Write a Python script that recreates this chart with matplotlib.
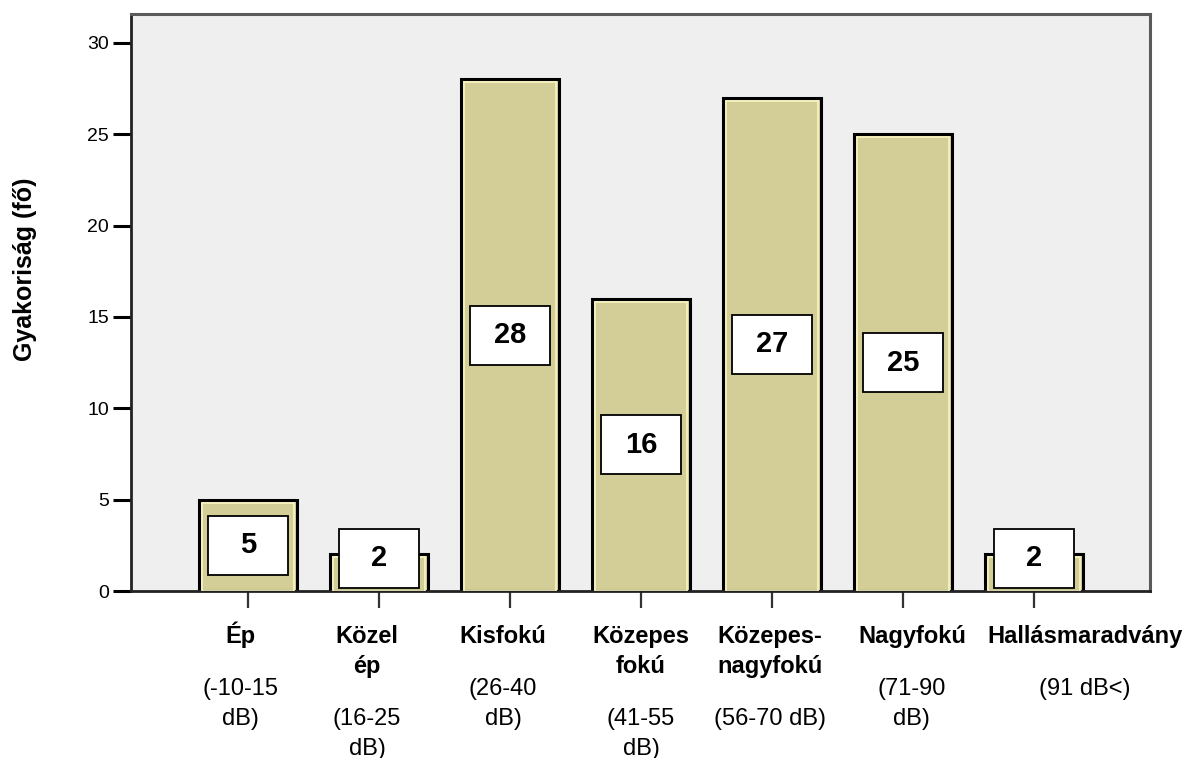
import matplotlib
matplotlib.use("Agg")
import matplotlib.pyplot as plt
from matplotlib.patches import Rectangle

# data
categories = ["Ép", "Közel\nép", "Kisfokú", "Közepes\nfokú",
              "Közepes-\nnagyfokú", "Nagyfokú", "Hallásmaradvány"]
ranges = ["(-10-15\ndB)", "(16-25\ndB)", "(26-40\ndB)", "(41-55\ndB)",
          "(56-70 dB)", "(71-90\ndB)", "(91 dB<)"]
counts = [5, 2, 28, 16, 27, 25, 2]

plt.rcParams["font.family"] = ["Liberation Sans", "DejaVu Sans"]

BAR_FILL = "#D3CE98"
BAR_GLOW = "#F8F5C2"
PANEL_BG = "#EFEFEF"

fig = plt.figure(figsize=(11.91, 7.58), dpi=100)
ax = fig.add_axes([131 / 1191, 167 / 758, 1019 / 1191, 577 / 758])
ax.set_facecolor(PANEL_BG)

x = list(range(len(counts)))
bar_w = 0.75
ax.bar(x, counts, width=bar_w, color=BAR_FILL, edgecolor="black",
       linewidth=2.2, zorder=2)
# thin light rim just inside the black outline
ax.bar(x, [c - 0.16 for c in counts], width=bar_w - 0.045, fill=False,
       edgecolor=BAR_GLOW, linewidth=1.2, zorder=3)

ax.set_xlim(-0.894, 6.887)
ax.set_ylim(0, 31.58)

# value boxes
box_w, box_h = 0.61, 3.23
for xi, c in zip(x, counts):
    yc = max(c / 2, 1.8)
    ax.add_patch(Rectangle((xi - box_w / 2, yc - box_h / 2), box_w, box_h,
                           facecolor="white", edgecolor="black",
                           linewidth=1.3, zorder=4))
    ax.text(xi, yc, str(c), ha="center", va="center", fontsize=21,
            fontweight="bold", zorder=5)

# axis styling
ax.set_yticks(range(0, 31, 5))
ax.tick_params(axis="y", length=13, width=2.2, color="black",
               labelsize=14, pad=3)
ax.set_xticks(x)
ax.set_xticklabels([])
ax.tick_params(axis="x", length=12, width=1.6, color="#333333")

for side in ["top", "right"]:
    ax.spines[side].set_color("#5a5a5a")
    ax.spines[side].set_linewidth(2.2)
ax.spines["left"].set_color("#222222")
ax.spines["left"].set_linewidth(2.0)
ax.spines["bottom"].set_color("#222222")
ax.spines["bottom"].set_linewidth(2.0)

# category labels: bold name, then the dB range underneath
label_shift = [-8, -12, -7, 0, -2, 9, 51]
line_gap = 30
for xi, name, rng, dx in zip(x, categories, ranges, label_shift):
    name_lines = name.split("\n")
    for k, line in enumerate(name_lines):
        ax.annotate(line, xy=(xi, 0), xycoords=("data", "axes fraction"),
                    xytext=(dx, -(52 + line_gap * k)),
                    textcoords="offset pixels", ha="center", va="baseline",
                    fontsize=17, fontweight="bold", annotation_clip=False)
    start = 52 + line_gap * (len(name_lines) - 1) + 52
    for j, line in enumerate(rng.split("\n")):
        ax.annotate(line, xy=(xi, 0), xycoords=("data", "axes fraction"),
                    xytext=(dx, -(start + line_gap * j)),
                    textcoords="offset pixels", ha="center", va="baseline",
                    fontsize=17, annotation_clip=False)

fig.text(25 / 1191, 1 - 269 / 758, "Gyakoriság (fő)", rotation=90,
         ha="center", va="center", fontsize=18, fontweight="bold")

fig.savefig("out.png", dpi=100)
plt.close(fig)
